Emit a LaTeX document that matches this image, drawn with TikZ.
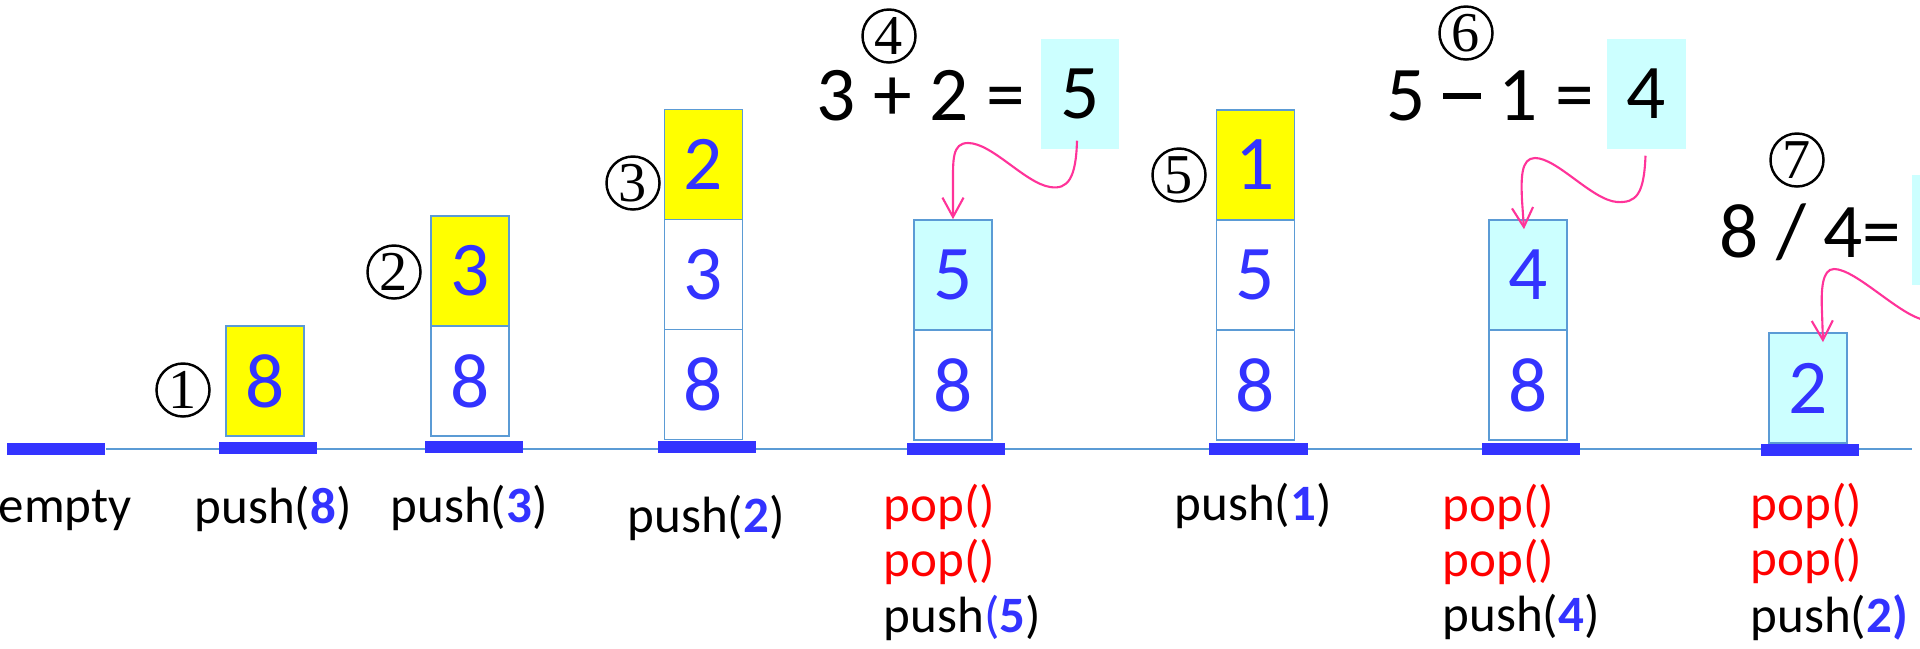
\documentclass[tikz,border=0pt]{standalone}
\usepackage{fontspec}
\setmainfont{Carlito}
\newfontfamily\circfont{Liberation Serif}
\usetikzlibrary{arrows.meta,calc,backgrounds}

\definecolor{numblue}{HTML}{3333FF}
\definecolor{edgeblue}{HTML}{5B9BD5}
\definecolor{resultcyan}{HTML}{CCFFFF}
\definecolor{flowpink}{HTML}{FF3399}
\definecolor{opred}{HTML}{FF0000}
\definecolor{topyellow}{HTML}{FFFF00}

\newcommand\lblsize{\fontsize{14.5}{16}\selectfont}
\newcommand\bigsize{\fontsize{22}{24}\selectfont}
\newcommand\bnum[1]{\textcolor{numblue}{\bfseries #1}}
% a wide minus sign at digit mid-height
\newcommand\wideminus{\rule[0.27em]{0.49em}{0.075em}}

\begin{document}
\begin{tikzpicture}[x=0.01cm, y=-0.01cm,
  cell/.style={rectangle, draw=edgeblue, line width=0.45pt, minimum width=0.78cm,
    minimum height=1.1cm, inner sep=0pt, font=\bigsize, text=numblue},
  topcell/.style={cell, fill=topyellow},
  newcell/.style={cell, fill=resultcyan},
  plaincell/.style={cell, fill=white},
  result/.style={rectangle, fill=resultcyan, minimum width=0.78cm,
    minimum height=1.1cm, inner sep=0pt, font=\bigsize, text=black},
  base/.style={rectangle, fill=numblue, minimum width=0.98cm, minimum height=0.12cm, inner sep=0pt},
  stepno/.style={circle, draw=black, line width=0.7pt, minimum size=0.53cm, inner sep=0pt,
    font=\fontsize{16}{18}\circfont},
  lbl/.style={anchor=base west, inner sep=0pt, font=\lblsize},
  eqn/.style={anchor=base west, inner sep=0pt, font=\bigsize, text height=0.5cm, text depth=0.05cm},
  flow/.style={draw=flowpink, line width=0.6pt, -{Straight Barb[length=5.5pt,width=6pt]}},
]
\useasboundingbox (0,0) rectangle (1920,648);
\clip (0,0) rectangle (1920,648);

% stack bases
\node[base] (b0) at (56,449) {};
\node[base] (b1) at (268,447.5) {};
\node[base] (b2) at (474,446.5) {};
\node[base] (b3) at (707,446.5) {};
\node[base] (b4) at (956,449) {};
\node[base] (b5) at (1258.5,449) {};
\node[base] (b6) at (1531,449) {};
\node[base] (b7) at (1810,449.5) {};
\coordinate (axend) at (1912,449);
\begin{scope}[on background layer]
  \draw[edgeblue, line width=0.35pt] (b0.east) -- (axend);
\end{scope}

% push(8)
\node[topcell] (s1a) at (265,381) {8};
% push(3)
\node[plaincell] (s2a) at (470,381) {8};
\node[topcell] (s2b) at (470,271) {3};
% push(2)
\node[plaincell] (s3a) at (703.5,384.5) {8};
\node[plaincell] (s3b) at (703.5,274.5) {3};
\node[topcell] (s3c) at (703.5,164.5) {2};
% pop, pop, push(5)
\node[plaincell] (s4a) at (953,385) {8};
\node[newcell] (s4top) at (953,275) {5};
% push(1)
\node[plaincell] (s5a) at (1255.5,385) {8};
\node[plaincell] (s5b) at (1255.5,275) {5};
\node[topcell] (s5c) at (1255.5,165) {1};
% pop, pop, push(4)
\node[plaincell] (s6a) at (1528,385) {8};
\node[newcell] (s6top) at (1528,275) {4};
% pop, pop, push(2)
\node[newcell] (s7top) at (1808,388) {2};

% step numbers
\node[stepno] (n1) at (183,390) {1};
\node[stepno] (n2) at (394,272) {2};
\node[stepno] (n3) at (633,183) {3};
\node[stepno] (n4) at (889,36) {4};
\node[stepno] (n5) at (1179,175) {5};
\node[stepno] (n6) at (1466,33) {6};
\node[stepno] (n7) at (1797,160) {7};

% arithmetic
\node[eqn] (eq1) at (816,120) {3 + 2 =};
\node[result] (eq1res) at (1080,94) {5};
\node[eqn] (eq2) at (1386,120) {5 \wideminus{} 1 =};
\node[result] (eq2res) at (1646.5,94) {4};
\node[eqn] (eq3) at (1719,257) {8 / 4=};
\node[result] (eq3res) at (1951,230) {};

% results pushed back onto the stack
\draw[flow] ($(eq1res.south)+(-3,-9)$) .. controls (1076,178) and (1068,190) .. (1050,187)
  .. controls (1025,183) and (992,143) .. (968,143)
  .. controls (952,143) and (953,160) .. (953,185) -- (s4top.north);
\draw[flow] ($(eq2res.south)+(-1,6)$) .. controls (1644,195) and (1636,203) .. (1617,202)
  .. controls (1592,200) and (1557,158) .. (1535,158)
  .. controls (1521,158) and (1521,178) .. (1522,200) -- ($(s6top.north)+(-4,10)$);
\draw[flow] ($(eq3res.south)+(-3,-9)$) .. controls (1946,318) and (1940,322) .. (1925,320)
  .. controls (1900,316) and (1856,269) .. (1834,269)
  .. controls (1822,269) and (1821,290) .. (1822,312) -- ($(s7top.north)+(15,10)$);

% operation labels
\node[lbl] (l0) at (-2,522) {empty};
\node[lbl] (l1) at (194,523) {push(\bnum{8})};
\node[lbl] (l2) at (390,522) {push(\bnum{3})};
\node[lbl] (l3) at (627,532) {push(\bnum{2})};
\node[lbl, text=opred] (l4a) at (883,521) {pop()};
\node[lbl, text=opred] (l4b) at (883,576) {pop()};
\node[lbl] (l4c) at (883,632) {push\textcolor{numblue}{(\textbf{5}})};
\node[lbl] (l5) at (1174,520) {push(\bnum{1})};
\node[lbl, text=opred] (l6a) at (1442,521) {pop()};
\node[lbl, text=opred] (l6b) at (1442,576) {pop()};
\node[lbl] (l6c) at (1442,631) {push(\bnum{4})};
\node[lbl, text=opred] (l7a) at (1750,520) {pop()};
\node[lbl, text=opred] (l7b) at (1750,575) {pop()};
\node[lbl] (l7c) at (1750,632) {push(\bnum{2)}};
\end{tikzpicture}
\end{document}
